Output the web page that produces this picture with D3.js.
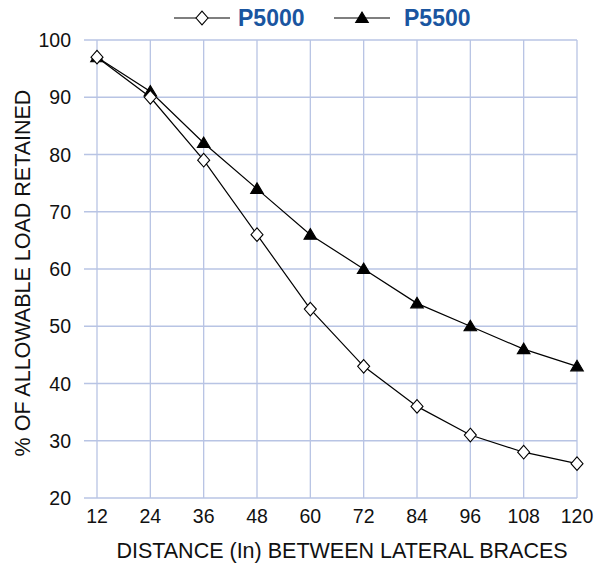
<!DOCTYPE html>
<html>
<head>
<meta charset="utf-8">
<script src="https://cdn.jsdelivr.net/npm/d3@7/dist/d3.min.js"></script>
<style>
  html, body { margin: 0; padding: 0; background: #fff; }
  svg { display: block; font-family: "Liberation Sans", Arial, sans-serif; }
</style>
</head>
<body>
<svg id="chart" width="611" height="564"></svg>
<script>
// Brace spacing (inches) along the x axis
const distances = [12, 24, 36, 48, 60, 72, 84, 96, 108, 120];
// % of allowable load retained, per model
const p5000 = [97, 90, 79, 66, 53, 43, 36, 31, 28, 26];
const p5500 = [97, 91, 82, 74, 66, 60, 54, 50, 46, 43];
const yTicks = [20, 30, 40, 50, 60, 70, 80, 90, 100];
const seriesNames = ["P5000", "P5500"];

const svg = d3.select("#chart");
const gridColor = "#b8c4e4";

const x = d3.scaleLinear().domain([12, 120]).range([97, 577]);
const y = d3.scaleLinear().domain([20, 100]).range([498, 40]);

// horizontal grid lines (extend left of the first column as tick stubs)
svg.append("g").selectAll("line").data(yTicks).join("line")
  .attr("x1", 84).attr("x2", x(120))
  .attr("y1", d => y(d)).attr("y2", d => y(d))
  .attr("stroke", gridColor).attr("stroke-width", 1.3);

// vertical grid lines
svg.append("g").selectAll("line").data(distances).join("line")
  .attr("x1", d => x(d)).attr("x2", d => x(d))
  .attr("y1", y(100)).attr("y2", y(20))
  .attr("stroke", gridColor).attr("stroke-width", 1.3);

// y tick labels
svg.append("g").selectAll("text").data(yTicks).join("text")
  .attr("x", 71).attr("y", d => y(d)).attr("dy", "0.36em")
  .attr("text-anchor", "end").attr("font-size", 19.5).attr("fill", "#111")
  .text(d => d);

// x tick labels
svg.append("g").selectAll("text").data(distances).join("text")
  .attr("x", d => x(d)).attr("y", 523)
  .attr("text-anchor", "middle").attr("font-size", 19.5).attr("fill", "#111")
  .text(d => d);

// axis titles
svg.append("text")
  .attr("x", 342).attr("y", 558)
  .attr("text-anchor", "middle").attr("font-size", 21.5).attr("fill", "#111")
  .text("DISTANCE (In) BETWEEN LATERAL BRACES");

svg.append("text")
  .attr("transform", `translate(30, 273) rotate(-90)`)
  .attr("text-anchor", "middle").attr("font-size", 21.5).attr("fill", "#111")
  .text("% OF ALLOWABLE LOAD RETAINED");

const line = d3.line().x((d, i) => x(distances[i])).y(d => y(d));

// near-square open diamond and compact solid triangle marker shapes
const diamondType = {
  draw(ctx) {
    ctx.moveTo(0, -6.8); ctx.lineTo(6, 0); ctx.lineTo(0, 6.8); ctx.lineTo(-6, 0); ctx.closePath();
  }
};
const triangleType = {
  draw(ctx) {
    ctx.moveTo(0, -6); ctx.lineTo(6.3, 4.5); ctx.lineTo(-6.3, 4.5); ctx.closePath();
  }
};
const diamond = d3.symbol().type(diamondType);
const triangle = d3.symbol().type(triangleType);

function drawSeries(values, sym, fill) {
  const g = svg.append("g");
  g.append("path").datum(values)
    .attr("d", line).attr("fill", "none")
    .attr("stroke", "#000").attr("stroke-width", 1.2);
  g.selectAll("path.m").data(values).join("path")
    .attr("class", "m")
    .attr("transform", (d, i) => `translate(${x(distances[i])},${y(d)})`)
    .attr("d", sym())
    .attr("fill", fill).attr("stroke", "#000").attr("stroke-width", 1.1);
}

drawSeries(p5500, triangle, "#000");
drawSeries(p5000, diamond, "#fff");

// legend
const legend = [
  { name: seriesNames[0], sym: diamond, fill: "#fff", x0: 174, tx: 238 },
  { name: seriesNames[1], sym: triangle, fill: "#000", x0: 334, tx: 404 }
];
const lg = svg.append("g");
legend.forEach(l => {
  lg.append("line").attr("x1", l.x0).attr("x2", l.x0 + 56)
    .attr("y1", 18).attr("y2", 18).attr("stroke", "#000").attr("stroke-width", 1.2);
  lg.append("path").attr("transform", `translate(${l.x0 + 28},18)`)
    .attr("d", l.sym()).attr("fill", l.fill).attr("stroke", "#000").attr("stroke-width", 1.1);
  lg.append("text").attr("x", l.tx).attr("y", 18).attr("dy", "0.36em")
    .attr("font-size", 23).attr("font-weight", "bold").attr("fill", "#1a55a0")
    .text(l.name);
});
</script>
</body>
</html>
